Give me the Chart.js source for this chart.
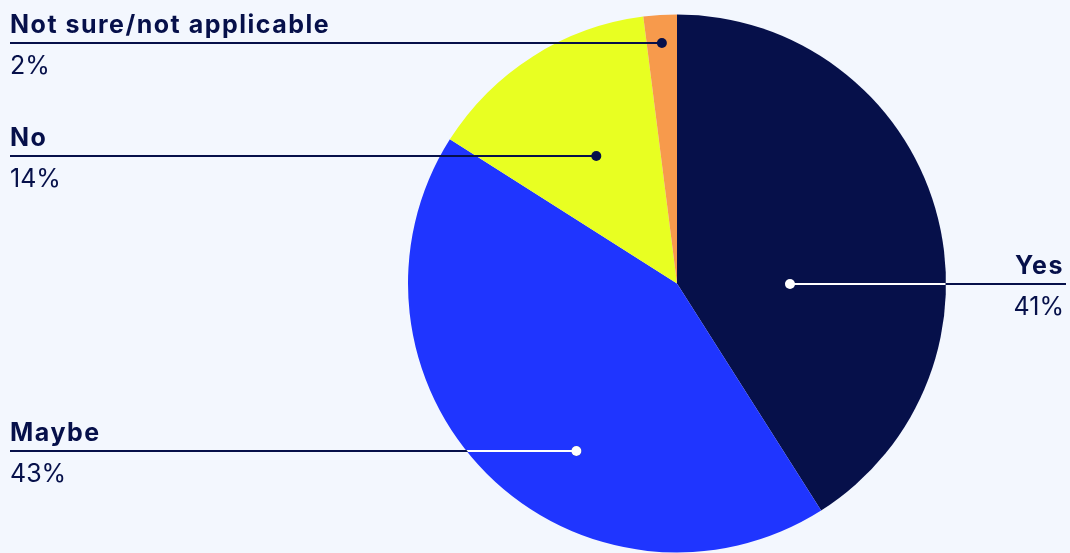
<!DOCTYPE html>
<html>
<head>
<meta charset="utf-8">
<script src="https://cdn.jsdelivr.net/npm/chart.js@4"></script>
<style>
  html, body { margin: 0; padding: 0; background: #f3f7fe; }
  #wrap { width: 1070px; height: 553px; position: relative; }
</style>
</head>
<body>
<div id="wrap"><canvas id="chartPie"></canvas></div>
<script>
const categorias = ['Yes', 'Maybe', 'No', 'Not sure/not applicable'];
const valores    = [41, 43, 14, 2];
const etiquetas  = ['41%', '43%', '14%', '2%'];

const navy    = '#06104a';
const azul    = '#1f35ff';
const amarillo = '#e8ff22';
const naranja = '#f79a4c';

// where each callout dot sits inside its slice (fraction of slice angle, fraction of radius)
const callouts = [
  { t: 0.61, r: 0.42, side: 'right', dark: true },
  { t: 0.41, r: 0.725, side: 'left', dark: true },
  { t: 0.5,  r: 0.56, side: 'left', dark: false },
  { t: 0.5,  r: 0.895, side: 'left', dark: false }
];

const calloutPlugin = {
  id: 'callouts',
  afterDatasetsDraw(chart) {
    const ctx = chart.ctx;
    const arcs = chart.getDatasetMeta(0).data;
    arcs.forEach((arc, i) => {
      const c = callouts[i];
      const { x, y, startAngle, endAngle, outerRadius } = arc.getProps(['x', 'y', 'startAngle', 'endAngle', 'outerRadius'], true);
      const a = startAngle + (endAngle - startAngle) * c.t;
      const dx = x + Math.cos(a) * outerRadius * c.r;
      const dy = Math.round(y + Math.sin(a) * outerRadius * c.r);
      const x0 = c.side === 'left' ? 10 : dx;
      const x1 = c.side === 'left' ? dx : chart.width - 4;

      ctx.save();
      ctx.strokeStyle = navy;
      ctx.lineWidth = 2;
      ctx.beginPath();
      ctx.moveTo(x0, dy);
      ctx.lineTo(x1, dy);
      ctx.stroke();
      ctx.fillStyle = navy;
      ctx.beginPath();
      ctx.arc(dx, dy, 5, 0, Math.PI * 2);
      ctx.fill();

      if (c.dark) {
        ctx.save();
        ctx.beginPath();
        ctx.arc(x, y, outerRadius - 0.5, 0, Math.PI * 2);
        ctx.clip();
        ctx.strokeStyle = '#ffffff';
        ctx.fillStyle = '#ffffff';
        ctx.beginPath();
        ctx.moveTo(x0, dy);
        ctx.lineTo(x1, dy);
        ctx.stroke();
        ctx.beginPath();
        ctx.arc(dx, dy, 5, 0, Math.PI * 2);
        ctx.fill();
        ctx.restore();
      }

      ctx.fillStyle = navy;
      ctx.textBaseline = 'alphabetic';
      const tx = c.side === 'left' ? 10 : chart.width - 6;
      ctx.textAlign = c.side === 'left' ? 'left' : 'right';
      ctx.font = '700 25px Inter, "Noto Sans", sans-serif';
      ctx.letterSpacing = '1.5px';
      ctx.fillText(categorias[i], tx, dy - 10);
      ctx.font = '400 25px Inter, "Noto Sans", sans-serif';
      ctx.letterSpacing = '0px';
      ctx.fillText(etiquetas[i], tx, dy + 31);
      ctx.restore();
    });
  }
};

new Chart(document.getElementById('chartPie'), {
  type: 'pie',
  data: {
    labels: categorias,
    datasets: [{
      data: valores,
      backgroundColor: [navy, azul, amarillo, naranja],
      borderWidth: 0
    }]
  },
  options: {
    responsive: true,
    maintainAspectRatio: false,
    animation: false,
    layout: { padding: { left: 408, right: 124, top: 14, bottom: 0 } },
    plugins: {
      legend: { display: false },
      tooltip: { enabled: false }
    }
  },
  plugins: [calloutPlugin]
});
</script>
</body>
</html>
